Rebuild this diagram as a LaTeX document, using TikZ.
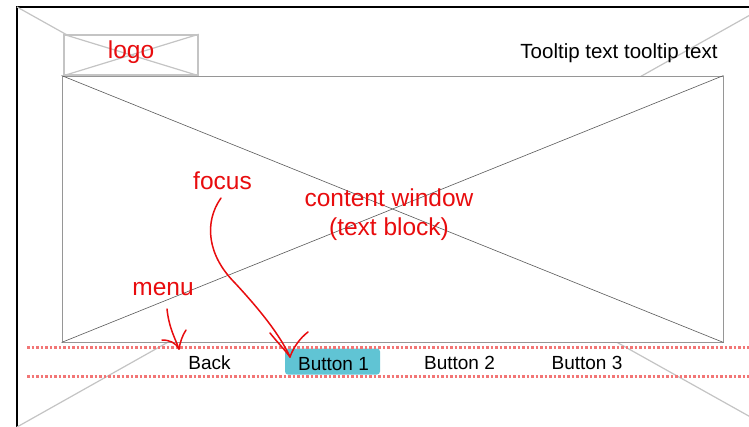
\documentclass[tikz,border=0pt]{standalone}
\usepackage{fontspec}
\setmainfont{Liberation Sans}
\definecolor{annred}{RGB}{232,12,14}
\definecolor{dotred}{RGB}{242,118,118}
\definecolor{focuscyan}{RGB}{96,196,212}
\definecolor{lightgray}{RGB}{196,196,196}
\definecolor{winborder}{RGB}{150,150,150}
\definecolor{windiag}{RGB}{90,90,90}
\begin{document}
\begin{tikzpicture}[x=1pt,y=-1pt,
  bgline/.style={draw=lightgray, line width=1.2pt},
  logobox/.style={draw=lightgray, fill=white, line width=1.5pt, minimum width=134pt, minimum height=40pt, inner sep=0pt},
  logodiag/.style={draw=lightgray, line width=1.2pt},
  winbox/.style={draw=winborder, fill=white, line width=0.9pt, minimum width=661pt, minimum height=266pt, inner sep=0pt},
  windiagline/.style={draw=windiag, line width=0.6pt},
  dotline/.style={draw=dotred, line width=3pt, dash pattern=on 2.7pt off 1.8pt},
  focusbox/.style={fill=focuscyan, rounded corners=3pt, minimum width=95pt, minimum height=26pt, inner sep=0pt},
  redlabel/.style={text=annred, font=\fontsize{24.5}{28}\selectfont, inner sep=0pt, anchor=base},
  blacklabel/.style={text=black, font=\fontsize{19}{22}\selectfont, inner sep=0pt, anchor=base},
  redpen/.style={draw=annred, line width=1.5pt, line cap=round, line join=round}
]
\useasboundingbox (0,0) rectangle (749,426);
\clip (0,0) rectangle (749,426);
\fill[white] (0,0) rectangle (749,426);
% outer frame
\draw[line width=2.2pt] (17,7) rectangle (790,445);
% background cross of the frame
\coordinate (fa) at (17,7);
\coordinate (fb) at (772,429);
\coordinate (fc) at (775,1);
\coordinate (fd) at (17,427);
\draw[bgline] (fa) -- (fb);
\draw[bgline] (fc) -- (fd);
% logo placeholder
\node[logobox] (logobox) at (131,55) {};
\draw[logodiag] (logobox.north west) -- (logobox.south east);
\draw[logodiag] (logobox.south west) -- (logobox.north east);
% content window
\node[winbox] (win) at (392.5,209) {};
\draw[windiagline] (win.north west) -- (win.south east);
\draw[windiagline] (win.south west) -- (win.north east);
% focused button background
\node[focusbox] (fbox) at (332.5,361.5) {};
% menu dotted lines
\coordinate (d1s) at (27,347.5);
\coordinate (d1e) at (760,347.5);
\coordinate (d2s) at (27,376);
\coordinate (d2e) at (760,376);
\draw[dotline] (d1s) -- (d1e);
\draw[dotline] (d2s) -- (d2e);
% texts
\node[redlabel] (logo) at (131,58) {logo};
\node[blacklabel, font=\fontsize{20.5}{24}\selectfont] (tooltip) at (619,58) {Tooltip text tooltip text};
\node[redlabel] (focus) at (222.5,189) {focus};
\node[redlabel] (cw1) at (389,206) {content window};
\node[redlabel] (cw2) at (389,235) {(text block)};
\node[redlabel] (menu) at (163,295) {menu};
\node[blacklabel] (back) at (209.5,369) {Back};
\node[blacklabel] (b1) at (333.5,370) {Button 1};
\node[blacklabel] (b2) at (459.5,369) {Button 2};
\node[blacklabel] (b3) at (587,369) {Button 3};
% menu arrow
\coordinate (ms) at (167,309);
\coordinate (mt) at (179,349);
\coordinate (mh1) at (162,340);
\coordinate (mh2) at (186,330);
\draw[redpen] (ms) .. controls (169,328) and (175,338) .. (mt);
\draw[redpen] (mh1) .. controls (170,340) and (176,343) .. (mt);
\draw[redpen] (mh2) .. controls (182,336) and (180,343) .. (mt);
% focus arrow
\coordinate (fs) at (221,198);
\coordinate (fm) at (235,283);
\coordinate (ft) at (290,357);
\coordinate (fh1) at (270,333);
\coordinate (fh2) at (308,332);
\draw[redpen] (fs) .. controls (204,222) and (207,255) .. (fm) .. controls (260,310) and (280,335) .. (ft);
\draw[redpen] (fh1) .. controls (278,343) and (285,350) .. (ft);
\draw[redpen] (fh2) .. controls (300,338) and (293,348) .. (ft);
\end{tikzpicture}
\end{document}
